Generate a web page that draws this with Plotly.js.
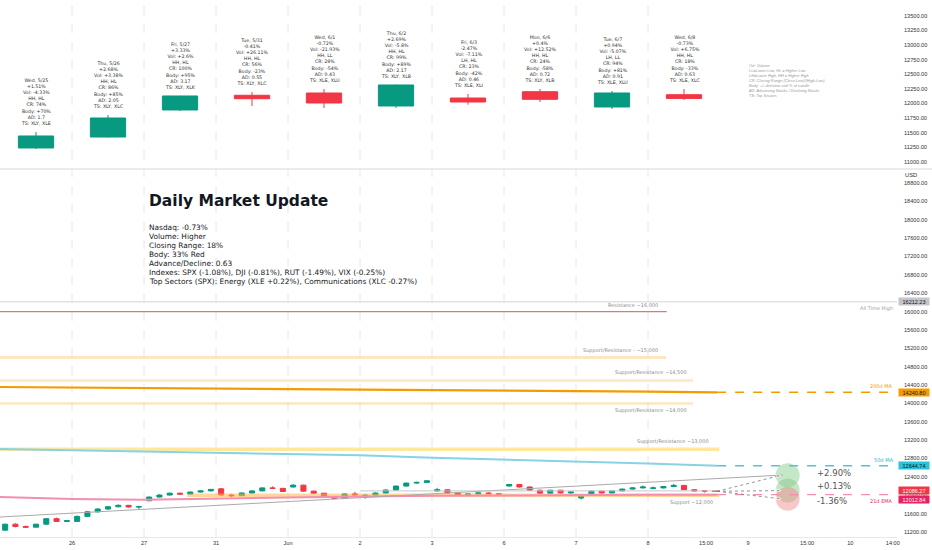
<!DOCTYPE html>
<html><head><meta charset="utf-8">
<script src="https://cdn.plot.ly/plotly-3.0.1.min.js"></script>
<style>html,body{margin:0;padding:0;background:#fff;}#chart{width:932px;height:550px;}</style>
</head><body><div id="chart"></div>
<script>
// ---------------- data ----------------
const dayTickLabels = ['25','26','27','31','Jun','2','3','6','7','8'];
const extraTickPos = [9.806, 10.39, 11.21, 11.81, 12.40];
const extraTickText = ['15:00','9','15:00','10','14:00'];

const dailyDates = ['Wed, 5/25','Thu, 5/26','Fri, 5/27','Tue, 5/31','Wed, 6/1','Thu, 6/2','Fri, 6/3','Mon, 6/6','Tue, 6/7','Wed, 6/8'];
const dailyOpen  = [11240,11427,11889,12140,12179,11957,12093,12201,11940,12150];
const dailyHigh  = [11513,11803,12131,12196,12247,12320,12162,12247,12213,12247];
const dailyLow   = [11222,11420,11872,11957,11923,11923,11979,12025,11906,12059];
const dailyClose = [11445,11752,12128,12081,12008,12316,12025,12071,12179,12086];
const pctChange = ['+1.51%','+2.68%','+3.33%','-0.41%','-0.72%','+2.69%','-2.47%','+0.4%','+0.94%','-0.73%'];
const volChange = ['-4.33%','+3.38%','+2.6%','+26.11%','-21.93%','-5.8%','-7.11%','+12.52%','-5.07%','+6.75%'];
const structure = ['HH, HL','HH, HL','HH, HL','HH, HL','HH, LL','HH, HL','LH, HL','HH, HL','LH, LL','HH, HL'];
const closingRange = ['74%','86%','100%','56%','28%','99%','23%','24%','94%','18%'];
const bodyPct = ['+70%','+85%','+95%','-23%','-54%','+89%','-42%','-58%','+81%','-33%'];
const advDecl = ['1.7','2.05','3.17','0.55','0.43','2.17','0.46','0.72','0.91','0.63'];
const topSectors = ['XLY, XLE','XLY, XLC','XLY, XLK','XLY, XLC','XLE, XLU','XLY, XLB','XLE, XLI','XLY, XLB','XLE, XLU','XLE, XLC'];

const legendLines = ['Vol: Volume','LL=Lower Low, HL = Higher Low','LH=Lower High, HH = Higher High','CR: Closing Range (Close-Low)/(High-Low)','Body: +/- direction and % of candle','AD: Advancing Stocks / Declining Stocks','TS: Top Sectors'];

const updateTitle = 'Daily Market Update';
const updateLines = ['Nasdaq: -0.73%','Volume: Higher','Closing Range: 18%','Body: 33% Red','Advance/Decline: 0.63','Indexes: SPX (-1.08%), DJI (-0.81%), RUT (-1.49%), VIX (-0.25%)','Top Sectors (SPX): Energy (XLE +0.22%), Communications (XLC -0.27%)'];

// intraday bars, 7 per session
const barsPerDay = 7;
const iOpen = [11240,11370,11320,11305,11370,11490,11430, 11430,11540,11640,11700,11750,11780,11745,
  11880,11960,12005,12045,12025,12070,12095, 12140,12005,11990,12050,12095,12160,12150,
  12180,12220,12090,12045,11960,11935,12030, 11960,12005,12050,12115,12200,12265,12280,
  12093,12120,12050,12000,12030,12050,12030, 12201,12235,12180,12110,12045,12110,12050,
  11940,12000,12090,12050,12095,12135,12160, 12150,12160,12190,12215,12120,12095,12090];
const iHigh = [11380,11390,11340,11380,11500,11513,11460, 11560,11660,11720,11770,11803,11790,11770,
  11975,12020,12060,12055,12080,12105,12131, 12160,12030,12060,12110,12170,12196,12160,
  12247,12230,12100,12050,11975,12040,12075, 12020,12060,12125,12210,12275,12295,12320,
  12162,12130,12060,12040,12060,12065,12040, 12247,12240,12190,12120,12120,12115,12080,
  12010,12100,12100,12100,12140,12170,12213, 12190,12200,12247,12225,12130,12110,12105];
const iLow = [11225,11300,11290,11300,11360,11420,11420, 11420,11530,11620,11680,11740,11730,11700,
  11872,11950,11995,12010,12015,12060,12085, 11990,11957,11985,12040,12090,12140,12070,
  12170,12080,12030,11950,11923,11930,11995, 11923,11995,12040,12105,12190,12250,12270,
  12085,12040,11979,11990,12020,12020,12000, 12190,12170,12100,12025,12040,12040,12030,
  11906,11990,12040,12045,12085,12125,12150, 12130,12150,12180,12110,12080,12059,12075];
const iClose = [11370,11320,11305,11370,11490,11430,11445, 11540,11640,11700,11750,11780,11745,11752,
  11960,12005,12045,12025,12070,12095,12128, 12005,11990,12050,12095,12160,12150,12081,
  12220,12090,12045,11960,11935,12030,12008, 12005,12050,12115,12200,12265,12280,12316,
  12120,12050,12000,12030,12050,12030,12025, 12235,12180,12110,12045,12110,12050,12071,
  12000,12090,12050,12095,12135,12160,12179, 12160,12190,12215,12120,12095,12090,12086];

// moving averages sampled at session boundaries
const maX = [0,1,2,3,4,5,6,7,8,9,9.96];
const ma200 = [14358,14348,14336,14325,14314,14302,14290,14279,14267,14255,14240.80];
const ma50  = [13007,12980,12955,12930,12897,12870,12818,12780,12740,12690,12644.74];
const ema21 = [11962,11920,11900,11930,11960,11975,11990,12000,12005,12010,12012.84];

const allTimeHigh = 16212.23;
const lastPrice = 12086.27;
const levelValues = [16000, 15000, 14500, 14000, 13000, 12000];
const levelLabels = ['Resistance ~16,000','Support/Resistance - ~15,000','Support/Resistance ~14,500','Support/Resistance ~14,000','Support/Resistance ~13,000','Support ~12,000'];
const trendX = [0, 10.875];
const trendY = [11526, 12441];
const flatRayX = [5, 10];
const flatRayY = [12095, 12095];
const projPct = [2.90, 0.13, -1.36];
const projLabels = ['+2.90%','+0.13%','-1.36%'];

// ---------------- layout helpers ----------------
const W = 932, H = 550, ML = 0, MR = 35, MT = 0, MB = 13;
const PW = W - ML - MR, PH = H - MT - MB;
const px = v => v / PW;
const py = v => 1 - v / PH;
const DAYPX = 72;
const xEnd = PW / DAYPX;

const UP = '#089981', DN = '#f23645';
const tickFont = {family: 'Liberation Sans, Arial, sans-serif', size: 5.6, color: '#333'};

const traces = [];

// bottom panel: levels as traces
const levelStyle = [
  {x0:0, x1:9.26, color:'rgb(222,120,120)', width:1.3},
  {x0:0, x1:9.25, color:'rgba(255,183,77,0.35)', width:3},
  {x0:0, x1:9.625, color:'rgba(255,183,77,0.35)', width:2.5},
  {x0:0, x1:9.625, color:'rgba(255,183,77,0.35)', width:2.5},
  {x0:0, x1:9.99, color:'rgba(255,213,79,0.55)', width:3.5},
  {x0:2.6, x1:9.99, color:'rgba(255,183,77,0.55)', width:3.5}
];
levelValues.forEach((v, i) => {
  traces.push({type:'scatter', mode:'lines', x:[levelStyle[i].x0, levelStyle[i].x1], y:[v, v],
    line:{color:levelStyle[i].color, width:levelStyle[i].width}, xaxis:'x', yaxis:'y', hoverinfo:'skip'});
});
// all time high line
traces.push({type:'scatter', mode:'lines', x:[0, xEnd], y:[allTimeHigh, allTimeHigh],
  line:{color:'#d4d4d4', width:1}, hoverinfo:'skip'});

// MAs
traces.push({type:'scatter', mode:'lines', x:maX, y:ma200, line:{color:'#f59b00', width:2.2}, hoverinfo:'skip'});
traces.push({type:'scatter', mode:'lines', x:[maX[maX.length-1], xEnd], y:[ma200[ma200.length-1], ma200[ma200.length-1]], line:{color:'#f59b00', width:1.5, dash:'dash'}, hoverinfo:'skip'});
traces.push({type:'scatter', mode:'lines', x:maX, y:ma50, line:{color:'#86d3e6', width:2}, hoverinfo:'skip'});
traces.push({type:'scatter', mode:'lines', x:[maX[maX.length-1], xEnd], y:[ma50[ma50.length-1], ma50[ma50.length-1]], line:{color:'#4fc3d9', width:1.5, dash:'dash'}, hoverinfo:'skip'});
traces.push({type:'scatter', mode:'lines', x:maX, y:ema21, line:{color:'#f48fb1', width:2}, hoverinfo:'skip'});
traces.push({type:'scatter', mode:'lines', x:[maX[maX.length-1], xEnd], y:[ema21[ema21.length-1], ema21[ema21.length-1]], line:{color:'#f48fb1', width:1.3, dash:'dash'}, hoverinfo:'skip'});

// trendlines
traces.push({type:'scatter', mode:'lines', x:trendX, y:trendY, line:{color:'#aaaaaa', width:1}, hoverinfo:'skip'});
traces.push({type:'scatter', mode:'lines', x:flatRayX, y:flatRayY, line:{color:'#c8c8c8', width:1}, hoverinfo:'skip'});

// intraday candles
const iX = iClose.map((_, i) => Math.floor(i / barsPerDay) + ((i % barsPerDay) + 0.5) / barsPerDay);
traces.push({type:'candlestick', x:iX, open:iOpen, high:iHigh, low:iLow, close:iClose,
  increasing:{line:{color:UP, width:1}, fillcolor:UP}, decreasing:{line:{color:DN, width:1}, fillcolor:DN},
  whiskerwidth:0, xaxis:'x', yaxis:'y', hoverinfo:'skip'});

// projections
const projX0 = iX[iX.length-1] + 0.03, projX1 = 10.85, circX = 10.94;
const projVals = projPct.map(p => lastPrice * (1 + p / 100));
projVals.forEach(v => {
  traces.push({type:'scatter', mode:'lines+markers', x:[projX0, projX1], y:[lastPrice, v],
    line:{color:'#777', width:0.8, dash:'dot'},
    marker:{symbol:'arrow', size:[0,5], angleref:'previous', color:'#777'}, hoverinfo:'skip'});
});

// top panel daily candles
const dX = dailyClose.map((_, i) => i + 0.5);
traces.push({type:'candlestick', x:dX, open:dailyOpen, high:dailyHigh, low:dailyLow, close:dailyClose,
  increasing:{line:{color:UP, width:1}, fillcolor:UP}, decreasing:{line:{color:DN, width:1}, fillcolor:DN},
  whiskerwidth:0, xaxis:'x2', yaxis:'y2', hoverinfo:'skip'});

// ---------------- shapes ----------------
const shapes = [];
for (let d = 1; d <= 9; d++) {
  shapes.push({type:'line', xref:'x', yref:'paper', x0:d, x1:d, y0:0, y1:1,
    line:{color:'#e6e6e6', width:1, dash:'dash'}, layer:'below'});
}
shapes.push({type:'line', xref:'paper', yref:'paper', x0:0, x1:1.04, y0:py(169), y1:py(169),
  line:{color:'#e4e4e4', width:1.5}});
const circColors = ['rgba(129,199,132,0.45)','rgba(129,199,132,0.45)','rgba(239,130,130,0.45)'];
projVals.forEach((v, i) => {
  shapes.push({type:'circle', xref:'x', yref:'y', xsizemode:'pixel', ysizemode:'pixel',
    xanchor:circX, yanchor:v, x0:-12, x1:12, y0:-12, y1:12,
    fillcolor:circColors[i], line:{width:0}, layer:'below'});
});

// ---------------- annotations ----------------
const ann = [];
// daily candle notes
dailyDates.forEach((d, i) => {
  const txt = [d, pctChange[i], 'Vol: ' + volChange[i], structure[i], 'CR: ' + closingRange[i],
    'Body: ' + bodyPct[i], 'AD: ' + advDecl[i], 'TS: ' + topSectors[i]].join('<br>');
  ann.push({xref:'x2', yref:'y2', x:dX[i], y:dailyHigh[i], yanchor:'bottom', xanchor:'center', yshift:4,
    text:txt, showarrow:false, align:'center',
    font:{family:'DejaVu Sans, sans-serif', size:4.7, color:'#333'}});
});
// legend
ann.push({xref:'paper', yref:'paper', x:px(746), y:py(61), xanchor:'left', yanchor:'top', align:'left',
  showarrow:false, text:legendLines.map(s => '<i>' + s + '</i>').join('<br>'),
  font:{family:'Liberation Sans, Arial, sans-serif', size:3.9, color:'#9a9a9a'}});
// main text
ann.push({xref:'paper', yref:'paper', x:px(147), y:py(201), xanchor:'left', yanchor:'middle',
  showarrow:false, text:'<b>' + updateTitle + '</b>',
  font:{family:'DejaVu Sans, sans-serif', size:15.5, color:'#131722'}});
updateLines.forEach((s, i) => {
  ann.push({xref:'paper', yref:'paper', x:px(147), y:py(227 + 9 * i), xanchor:'left', yanchor:'middle',
    showarrow:false, text:s, font:{family:'DejaVu Sans, sans-serif', size:7.4, color:'#131722'}});
});
// level labels
const labelRight = [9.17, 9.17, 9.57, 9.57, 9.875, 9.93];
const labelBelow = [false, false, false, true, false, true];
levelLabels.forEach((s, i) => {
  ann.push({xref:'x', yref:'y', x:labelRight[i], y:levelValues[i], xanchor:'right',
    yanchor: labelBelow[i] ? 'top' : 'bottom', yshift: labelBelow[i] ? -2 : 2,
    showarrow:false, text:s, font:{family:'DejaVu Sans, sans-serif', size:5, color:'#8a8a8a'}});
});
// right side labels
const sideText = [
  {t:'All Time High', v:allTimeHigh, c:'#a0a0a0', anchor:'top', sh:-1},
  {t:'200d MA', v:ma200[ma200.length-1], c:'#f59b00', anchor:'bottom', sh:1},
  {t:'50d MA', v:ma50[ma50.length-1], c:'#26b5cc', anchor:'bottom', sh:1},
  {t:'21d EMA', v:ema21[ema21.length-1], c:'#e91e63', anchor:'top', sh:-1}
];
sideText.forEach(o => {
  ann.push({xref:'paper', yref:'y', x:px(895), y:o.v, xanchor:'right', yanchor:o.anchor, yshift:o.sh,
    showarrow:false, text:o.t, font:{family:'DejaVu Sans, sans-serif', size:5, color:o.c}});
});
// price boxes
const boxes = [
  {v:allTimeHigh, bg:'#c3c5cb', fc:'#131722', sh:0},
  {v:ma200[ma200.length-1], bg:'#f59b00', fc:'#131722', sh:0},
  {v:ma50[ma50.length-1], bg:'#26c6da', fc:'#131722', sh:0},
  {v:lastPrice, bg:'#f23645', fc:'#ffffff', sh:1},
  {v:ema21[ema21.length-1], bg:'#e91e63', fc:'#ffffff', sh:-5}
];
boxes.forEach(b => {
  ann.push({xref:'paper', yref:'y', x:1, xshift:1, y:b.v, yshift:b.sh, xanchor:'left', yanchor:'middle',
    showarrow:false, text:b.v.toFixed(2), bgcolor:b.bg, borderpad:0, width:30, height:7,
    font:{family:'Liberation Sans, Arial, sans-serif', size:5.5, color:b.fc}});
});
// USD
ann.push({xref:'paper', yref:'paper', x:1, xshift:6, y:py(175), xanchor:'left', yanchor:'middle',
  showarrow:false, text:'USD', font:{family:'Liberation Sans, Arial, sans-serif', size:5.8, color:'#333'}});
// projection labels
projLabels.forEach((s, i) => {
  ann.push({xref:'x', yref:'y', x:11.32, y:projVals[i], xanchor:'left', yanchor:'middle',
    yshift: i === 0 ? 2 : (i === 1 ? 5 : -2),
    showarrow:false, text:s, font:{family:'DejaVu Sans, sans-serif', size:8.5, color:'#555'}});
});

// ---------------- axes ----------------
const botTicks = [];
for (let v = 11200; v <= 18800; v += 400) botTicks.push(v);
const topTicks = [];
for (let v = 11000; v <= 13750; v += 250) topTicks.push(v);

const layout = {
  width: W, height: H,
  margin: {l: ML, r: MR, t: MT, b: MB, pad: 0},
  paper_bgcolor: '#ffffff', plot_bgcolor: '#ffffff',
  showlegend: false,
  xaxis: {domain:[0,1], range:[0, xEnd], anchor:'y', showgrid:false, zeroline:false,
    tickmode:'array', tickvals:[0,1,2,3,4,5,6,7,8,9].concat(extraTickPos),
    ticktext:dayTickLabels.concat(extraTickText), ticks:'', showline:true, linecolor:'#e8e8e8',
    tickfont:tickFont, rangeslider:{visible:false}, fixedrange:true},
  xaxis2: {domain:[0,1], range:[0, xEnd], anchor:'y2', showgrid:false, zeroline:false,
    showticklabels:false, ticks:'', rangeslider:{visible:false}, fixedrange:true},
  yaxis: {domain:[0, py(170)], range:[11091, 19083], side:'right', anchor:'x', showgrid:false,
    zeroline:false, tickmode:'array', tickvals:botTicks, ticktext:botTicks.map(v => v.toFixed(2)),
    ticks:'', ticklabelstandoff:6, tickfont:tickFont, fixedrange:true},
  yaxis2: {domain:[py(168), 1], range:[10898, 13767], side:'right', anchor:'x2', showgrid:false,
    zeroline:false, tickmode:'array', tickvals:topTicks, ticktext:topTicks.map(v => v.toFixed(2)),
    ticks:'', ticklabelstandoff:6, tickfont:tickFont, fixedrange:true},
  shapes: shapes,
  annotations: ann
};

Plotly.newPlot('chart', traces, layout, {displayModeBar:false, staticPlot:true});
</script>
</body></html>
